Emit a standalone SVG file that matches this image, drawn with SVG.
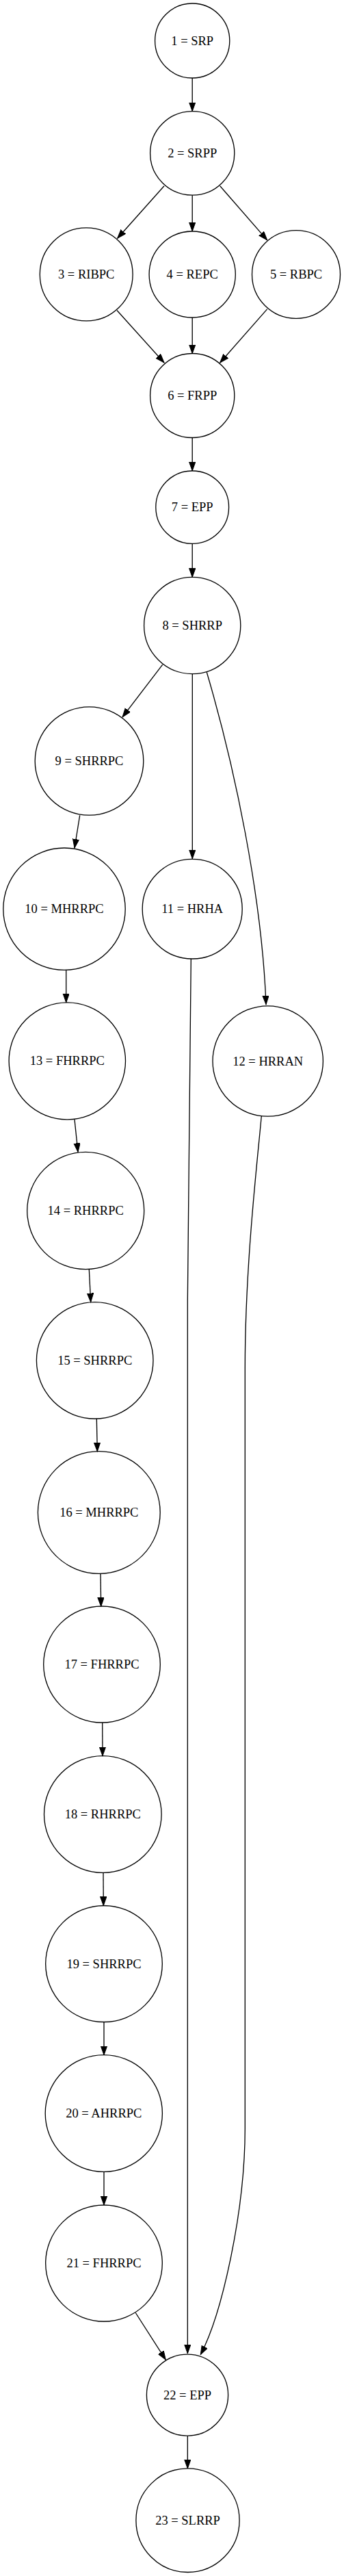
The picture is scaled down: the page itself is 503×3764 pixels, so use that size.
<svg xmlns="http://www.w3.org/2000/svg" width="503" height="3764" viewBox="0 0 503 3764">
<style>
.n ellipse{fill:none;stroke:#000;stroke-width:1.33}
.n text{font-family:"Liberation Serif","Times New Roman",serif;font-size:18.5px;text-anchor:middle;fill:#000}
#edges path{fill:none;stroke:#000;stroke-width:1.33;marker-end:url(#ah)}
</style>
<defs>
<marker id="ah" markerUnits="userSpaceOnUse" markerWidth="14" markerHeight="10" refX="13" refY="4.65" orient="auto">
<path d="M0,0 L13,4.65 L0,9.3 z" fill="#000" stroke="#000" stroke-width="1"/>
</marker>
</defs>
<rect width="503" height="3764" fill="#fff"/>
<g id="edges">
<path d="M281.2,114 L281.2,162.6"/>
<path d="M240,271.7 L171.7,348.2"/>
<path d="M281.2,285.2 L281.2,337.9"/>
<path d="M321.7,271.7 L390.7,350.9"/>
<path d="M171,453.5 L240,530"/>
<path d="M281.2,464.2 L281.2,516.6"/>
<path d="M390.7,451.6 L321.7,530"/>
<path d="M281.2,639.8 L281.2,688"/>
<path d="M281.2,794.4 L281.2,843.4"/>
<path d="M237.7,971.2 L179,1047.8"/>
<path d="M281.3,985 L281.3,1254.8"/>
<path d="M302.3,982.3 C343,1120 383,1310 389,1467.7"/>
<path d="M116.7,1191.3 L109,1239"/>
<path d="M96.7,1417.4 L96.7,1464.8"/>
<path d="M109,1635.9 L114,1683.3"/>
<path d="M130.3,1854.7 L132.7,1902.6"/>
<path d="M141.3,2072.9 L142.3,2120.7"/>
<path d="M147,2299.4 L147.7,2347.2"/>
<path d="M149.7,2517 L150,2565.6"/>
<path d="M151,2736.2 L151.3,2784.4"/>
<path d="M152,2954.5 L152,3002.7"/>
<path d="M152,3173.3 L152,3222"/>
<path d="M198.3,3379.5 L242.3,3448.1"/>
<path d="M279.3,1401 C277,1600 274.3,1750 274.3,1900 L274.3,3438.8"/>
<path d="M382.3,1630.7 C376,1700 358.3,1850 358.3,2000 L358.3,3110 C358.3,3230 325,3380 293.3,3440.5"/>
<path d="M274.3,3559.2 L274.3,3606.9"/>
</g>
<g id="n1" class="n"><ellipse cx="281.2" cy="59.5" rx="54.6" ry="54.5"/><text x="281.2" y="65.5">1 = SRP</text></g>
<g id="n2" class="n"><ellipse cx="281.2" cy="223.9" rx="61.6" ry="61.3"/><text x="281.2" y="229.9">2 = SRPP</text></g>
<g id="n3" class="n"><ellipse cx="126.2" cy="400.9" rx="67.9" ry="68"/><text x="126.2" y="406.9">3 = RIBPC</text></g>
<g id="n4" class="n"><ellipse cx="281.2" cy="401" rx="63.1" ry="63"/><text x="281.2" y="407">4 = REPC</text></g>
<g id="n5" class="n"><ellipse cx="433" cy="401" rx="64.5" ry="64.3"/><text x="433" y="407">5 = RBPC</text></g>
<g id="n6" class="n"><ellipse cx="281.2" cy="578" rx="61.6" ry="61.5"/><text x="281.2" y="584">6 = FRPP</text></g>
<g id="n7" class="n"><ellipse cx="281.2" cy="741.2" rx="53.4" ry="53.2"/><text x="281.2" y="747.2">7 = EPP</text></g>
<g id="n8" class="n"><ellipse cx="281.2" cy="914" rx="70.6" ry="70.6"/><text x="281.2" y="920">8 = SHRRP</text></g>
<g id="n9" class="n"><ellipse cx="130.5" cy="1112" rx="79.3" ry="79.2"/><text x="130.5" y="1118">9 = SHRRPC</text></g>
<g id="n10" class="n"><ellipse cx="94" cy="1328.2" rx="89.2" ry="89.2"/><text x="94" y="1334.2">10 = MHRRPC</text></g>
<g id="n11" class="n"><ellipse cx="281.2" cy="1328.2" rx="73" ry="72.8"/><text x="281.2" y="1334.2">11 = HRHA</text></g>
<g id="n12" class="n"><ellipse cx="391.7" cy="1550.5" rx="80.7" ry="80.7"/><text x="391.7" y="1556.5">12 = HRRAN</text></g>
<g id="n13" class="n"><ellipse cx="98.3" cy="1550.3" rx="85.2" ry="85.5"/><text x="98.3" y="1556.3">13 = FHRRPC</text></g>
<g id="n14" class="n"><ellipse cx="125.2" cy="1769" rx="85.5" ry="85.7"/><text x="125.2" y="1775">14 = RHRRPC</text></g>
<g id="n15" class="n"><ellipse cx="138.7" cy="1987.8" rx="85.3" ry="85.2"/><text x="138.7" y="1993.8">15 = SHRRPC</text></g>
<g id="n16" class="n"><ellipse cx="144.8" cy="2210" rx="89.4" ry="89.3"/><text x="144.8" y="2216">16 = MHRRPC</text></g>
<g id="n17" class="n"><ellipse cx="149" cy="2432" rx="85.3" ry="85"/><text x="149" y="2438">17 = FHRRPC</text></g>
<g id="n18" class="n"><ellipse cx="150.3" cy="2651" rx="85.8" ry="85.3"/><text x="150.3" y="2657">18 = RHRRPC</text></g>
<g id="n19" class="n"><ellipse cx="152" cy="2869.5" rx="85.3" ry="85"/><text x="152" y="2875.5">19 = SHRRPC</text></g>
<g id="n20" class="n"><ellipse cx="151.8" cy="3088" rx="85.6" ry="85.3"/><text x="151.8" y="3094">20 = AHRRPC</text></g>
<g id="n21" class="n"><ellipse cx="152" cy="3307" rx="85.3" ry="85"/><text x="152" y="3313">21 = FHRRPC</text></g>
<g id="n22" class="n"><ellipse cx="274" cy="3499.6" rx="59.6" ry="59.5"/><text x="274" y="3505.6">22 = EPP</text></g>
<g id="n23" class="n"><ellipse cx="274.5" cy="3682.7" rx="75.6" ry="75.8"/><text x="274.5" y="3688.7">23 = SLRRP</text></g>
</svg>
